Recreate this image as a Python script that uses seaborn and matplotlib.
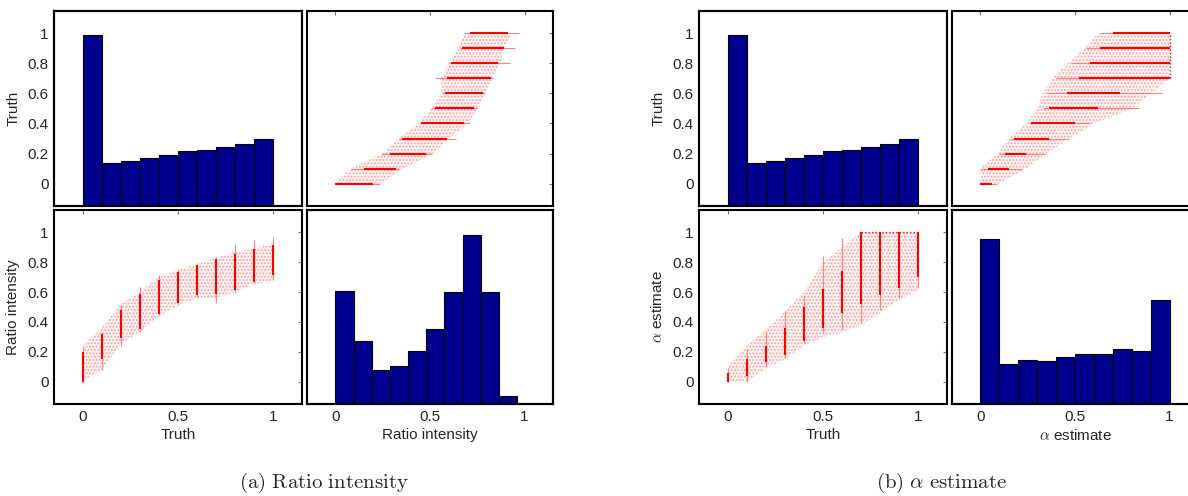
import matplotlib
matplotlib.use('Agg')
import matplotlib.pyplot as plt
import pandas as pd
import seaborn as sns

sns.set_style('white')
plt.rcParams['font.family'] = ['Liberation Sans', 'DejaVu Sans']
plt.rcParams['mathtext.fontset'] = 'cm'
plt.rcParams['hatch.linewidth'] = 0.9

# truth levels where the dense streaks sit
levels = [0.0, 0.1, 0.2, 0.3, 0.4, 0.5, 0.6, 0.7, 0.8, 0.9, 1.0]

# histograms (relative bar heights, 10 bins each)
hist_truth = [1.0, 0.251, 0.263, 0.281, 0.296, 0.320, 0.326, 0.343, 0.361, 0.390]
hist_ratio = [0.664, 0.368, 0.198, 0.222, 0.311, 0.439, 0.656, 0.993, 0.656, 0.045]
hist_alpha = [0.968, 0.233, 0.260, 0.254, 0.278, 0.296, 0.296, 0.321, 0.313, 0.611]
truth_max = 1.0
ratio_max = 0.96
alpha_max = 1.0

# ratio intensity vs truth: dense core, faint tails, and the faint cloud
ratio_core_lo = [0.0, 0.15, 0.29, 0.35, 0.45, 0.525, 0.58, 0.59, 0.613, 0.669, 0.713]
ratio_core_hi = [0.20, 0.32, 0.48, 0.59, 0.68, 0.735, 0.78, 0.824, 0.858, 0.891, 0.913]
ratio_tail_lo = [0.0, 0.08, 0.24, 0.335, 0.447, 0.513, 0.569, 0.524, 0.602, 0.658, 0.68]
ratio_tail_hi = [0.235, 0.335, 0.513, 0.635, 0.713, 0.746, 0.79, 0.835, 0.924, 0.947, 0.969]
ratio_cloud_lo = [0.0, 0.08, 0.25, 0.335, 0.44, 0.51, 0.56, 0.56, 0.60, 0.65, 0.68]
ratio_cloud_hi = [0.24, 0.36, 0.52, 0.60, 0.70, 0.75, 0.79, 0.83, 0.87, 0.89, 0.93]

# alpha estimate vs truth
alpha_core_lo = [0.0, 0.04, 0.13, 0.18, 0.27, 0.36, 0.46, 0.52, 0.58, 0.63, 0.70]
alpha_core_hi = [0.06, 0.15, 0.24, 0.36, 0.50, 0.62, 0.74, 1.0, 1.0, 1.0, 1.0]
alpha_tail_lo = [0.0, 0.0, 0.10, 0.16, 0.26, 0.33, 0.35, 0.40, 0.48, 0.56, 0.63]
alpha_tail_hi = [0.09, 0.22, 0.34, 0.47, 0.58, 0.84, 0.96, 1.0, 1.0, 1.0, 1.0]
alpha_cloud_lo = [0.0, 0.0, 0.09, 0.15, 0.24, 0.30, 0.33, 0.38, 0.46, 0.55, 0.62]
alpha_cloud_hi = [0.10, 0.24, 0.35, 0.47, 0.60, 0.80, 0.90, 1.0, 1.0, 1.0, 1.0]
alpha_clip_from = 0.7

navy = '#00008F'
lim = (-0.15, 1.15)
yt = [0, 0.2, 0.4, 0.6, 0.8, 1]
ytl = ['0', '0.2', '0.4', '0.6', '0.8', '1']
xt = [0, 0.5, 1]
xtl = ['0', '0.5', '1']
fs = 11

fig = plt.figure(figsize=(11.88, 4.96), dpi=100)
W, H = 1188.0, 496.0


def make_ax(x0, x1, y0, y1):
    ax = fig.add_axes([x0 / W, 1 - y1 / H, (x1 - x0) / W, (y1 - y0) / H])
    ax.set_xlim(lim)
    ax.set_ylim(lim)
    ax.set_xticks(xt)
    ax.set_xticklabels(xtl)
    ax.set_yticks(yt)
    ax.set_yticklabels(ytl)
    ax.tick_params(direction='in', length=3, width=0.8, color='0.45',
                   top=True, right=True, labelsize=fs, pad=4,
                   labelbottom=False, labelleft=False)
    for s in ax.spines.values():
        s.set_color('black')
        s.set_linewidth(1.5)
    return ax


def hist_panel(ax, heights, vmax):
    ax.tick_params(length=0)
    hax = ax.twinx()
    step = vmax / 10
    df = pd.DataFrame({'v': [step * (i + 0.5) for i in range(10)], 'w': heights})
    sns.histplot(data=df, x='v', weights='w', bins=10, binrange=(0, vmax),
                 ax=hax, color=navy, edgecolor='black', linewidth=0.8, alpha=1)
    hax.set_ylim(0, 1.14)
    hax.set_yticks([])
    hax.set_ylabel('')
    hax.set_xlim(lim)
    for s in hax.spines.values():
        s.set_color('black')
        s.set_linewidth(1.5)


def scatter_panel(ax, core_lo, core_hi, tail_lo, tail_hi, cloud_lo, cloud_hi,
                  flip=False, clip=None):
    cloud_kw = dict(facecolor=(1, 0.96, 0.96), edgecolor=(1, 0.62, 0.62),
                    hatch='.....', linewidth=0)
    if flip:
        ax.fill_betweenx(levels, cloud_lo, cloud_hi, **cloud_kw)
        ax.hlines(levels, tail_lo, tail_hi, color=(1, 0.5, 0.5), lw=0.8)
        ax.hlines(levels, core_lo, core_hi, color='red', lw=1.5)
        if clip is not None:
            ax.vlines(1.0, clip, 1.0, color='red', lw=1.0, linestyles=(0, (1, 1.5)))
    else:
        ax.fill_between(levels, cloud_lo, cloud_hi, **cloud_kw)
        ax.vlines(levels, tail_lo, tail_hi, color=(1, 0.5, 0.5), lw=0.8)
        ax.vlines(levels, core_lo, core_hi, color='red', lw=1.5)
        if clip is not None:
            ax.hlines(1.0, clip, 1.0, color='red', lw=1.0, linestyles=(0, (1, 1.5)))


rows = [(11, 206), (210, 404)]
groups = [
    ((54, 302), (307, 553), 'Ratio intensity', hist_ratio, ratio_max,
     (ratio_core_lo, ratio_core_hi, ratio_tail_lo, ratio_tail_hi,
      ratio_cloud_lo, ratio_cloud_hi), None),
    ((699, 947), (952, 1198), r'$\alpha$ estimate', hist_alpha, alpha_max,
     (alpha_core_lo, alpha_core_hi, alpha_tail_lo, alpha_tail_hi,
      alpha_cloud_lo, alpha_cloud_hi), alpha_clip_from),
]

for c0, c1, name, hvals, hmax, sdata, clip in groups:
    tl = make_ax(c0[0], c0[1], *rows[0])
    tr = make_ax(c1[0], c1[1], *rows[0])
    bl = make_ax(c0[0], c0[1], *rows[1])
    br = make_ax(c1[0], c1[1], *rows[1])

    tl.tick_params(labelleft=True)
    bl.tick_params(labelleft=True, labelbottom=True)
    br.tick_params(labelbottom=True)

    tl.set_ylabel('Truth', fontsize=fs, labelpad=5)
    bl.set_ylabel(name, fontsize=fs, labelpad=5)
    bl.set_xlabel('Truth', fontsize=fs, labelpad=3)
    br.set_xlabel(name, fontsize=fs, labelpad=3)

    scatter_panel(bl, *sdata, clip=clip)
    scatter_panel(tr, *sdata, flip=True, clip=clip)
    hist_panel(tl, hist_truth, truth_max)
    hist_panel(br, hvals, hmax)

fig.text(324 / W, 1 - 483 / H, r'$\mathrm{(a)\ Ratio\ intensity}$',
         ha='center', va='center', fontsize=15)
fig.text(942 / W, 1 - 483 / H, r'$\mathrm{(b)}\ \alpha\ \mathrm{estimate}$',
         ha='center', va='center', fontsize=15)

fig.savefig('out.png', dpi=100)
